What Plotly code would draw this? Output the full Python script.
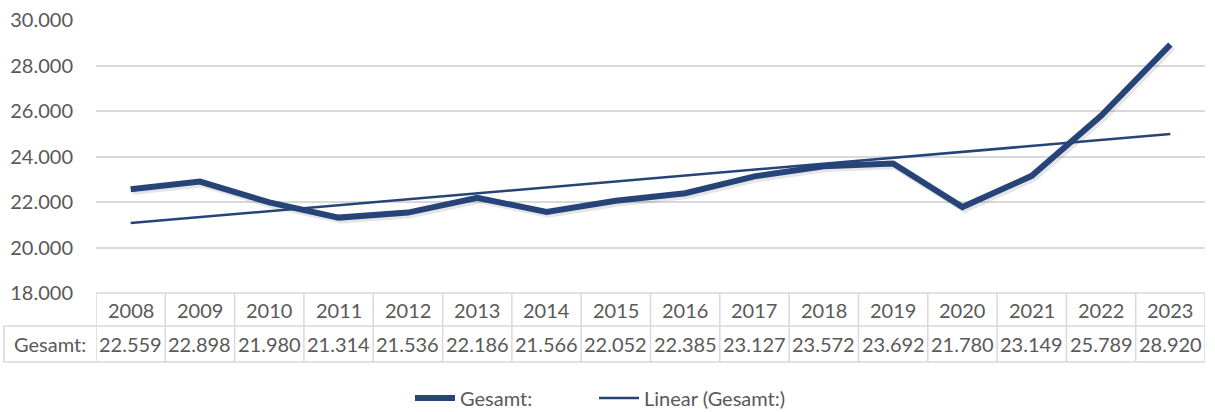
import numpy as np
import plotly.graph_objects as go

years = ["2008", "2009", "2010", "2011", "2012", "2013", "2014", "2015",
         "2016", "2017", "2018", "2019", "2020", "2021", "2022", "2023"]
gesamt = [22559, 22898, 21980, 21314, 21536, 22186, 21566, 22052,
          22385, 23127, 23572, 23692, 21780, 23149, 25789, 28920]
series_name = "Gesamt:"
trend_name = "Linear (Gesamt:)"
y_ticks = [18000, 20000, 22000, 24000, 26000, 28000, 30000]

W, H = 1215, 412
L, R, T, B = 96, 10, 20, 119
plot_h = H - T - B
plot_w = W - L - R

def py(ypx):
    return (H - B - ypx) / plot_h

def px(xpx):
    return (xpx - L) / plot_w

LINE = "#264478"
GRID = "#d9d9d9"
TXT = "#595959"
FONT = "Lato"
FS = 20

n = len(years)
idx = np.arange(n)
slope, icpt = np.polyfit(idx + 1, np.array(gesamt, dtype=float), 1)
trend = icpt + slope * (idx + 1)

fig = go.Figure()
# soft shadow
fig.add_trace(go.Scatter(x=idx + 0.03, y=np.array(gesamt) - 80, mode="lines",
                         line=dict(color="rgba(0,0,0,0.10)", width=8),
                         hoverinfo="skip", showlegend=False))
fig.add_trace(go.Scatter(x=idx, y=gesamt, mode="lines", name=series_name,
                         line=dict(color=LINE, width=6), legend="legend"))
fig.add_trace(go.Scatter(x=idx, y=trend, mode="lines", name=trend_name,
                         line=dict(color=LINE, width=2.5), legend="legend2"))

shapes = []
ytop, ymid, ybot = py(293), py(326), py(362)
xleft = px(4)
line = dict(color=GRID, width=1.5)
for k in range(n + 1):
    shapes.append(dict(type="line", xref="x", yref="paper", x0=k - 0.5, x1=k - 0.5,
                       y0=ytop, y1=ybot, line=line))
shapes.append(dict(type="line", xref="paper", yref="paper", x0=xleft, x1=xleft,
                   y0=ymid, y1=ybot, line=line))
shapes.append(dict(type="line", xref="paper", yref="paper", x0=0, x1=1,
                   y0=ytop, y1=ytop, line=line))
for yy in (ymid, ybot):
    shapes.append(dict(type="line", xref="paper", yref="paper", x0=xleft, x1=1,
                       y0=yy, y1=yy, line=line))

annotations = []
yh, yd = py(309.5), py(344)
cell_font = dict(size=FS, color=TXT, family=FONT)
for i, (yr, v) in enumerate(zip(years, gesamt)):
    annotations.append(dict(x=i, y=yh, xref="x", yref="paper", text=yr, showarrow=False,
                            xanchor="center", yanchor="middle", font=cell_font))
    txt = f"{v:,}".replace(",", ".")
    annotations.append(dict(x=i, y=yd, xref="x", yref="paper", text=txt, showarrow=False,
                            xanchor="center", yanchor="middle", font=cell_font))
annotations.append(dict(x=px(50), y=yd, xref="paper", yref="paper", text=series_name,
                        showarrow=False, xanchor="center", yanchor="middle", font=cell_font))

leg_common = dict(orientation="h", y=py(398), yanchor="middle", xanchor="left",
                  font=dict(size=FS, color=TXT, family=FONT), itemwidth=40,
                  bgcolor="rgba(0,0,0,0)")

fig.update_layout(
    width=W, height=H,
    margin=dict(l=L, r=R, t=T, b=B, autoexpand=False),
    paper_bgcolor="white", plot_bgcolor="white",
    separators=",.",
    font=dict(family=FONT, color=TXT, size=FS),
    xaxis=dict(range=[-0.5, n - 0.5], showgrid=False, showticklabels=False,
               zeroline=False, showline=False, fixedrange=True),
    yaxis=dict(range=[18000, 30000], tickvals=y_ticks, tickformat=",d",
               showgrid=True, gridcolor=GRID, gridwidth=1.5, zeroline=False,
               showline=False, ticks="", ticklabelstandoff=22,
               tickfont=dict(size=FS, color=TXT, family=FONT)),
    showlegend=True,
    legend=dict(x=px(410), **leg_common),
    legend2=dict(x=px(594), **leg_common),
    shapes=shapes, annotations=annotations,
)

fig.write_html("out.html", config={"displayModeBar": False},
               post_script="document.body.style.margin='0px';document.body.style.padding='0px';")
